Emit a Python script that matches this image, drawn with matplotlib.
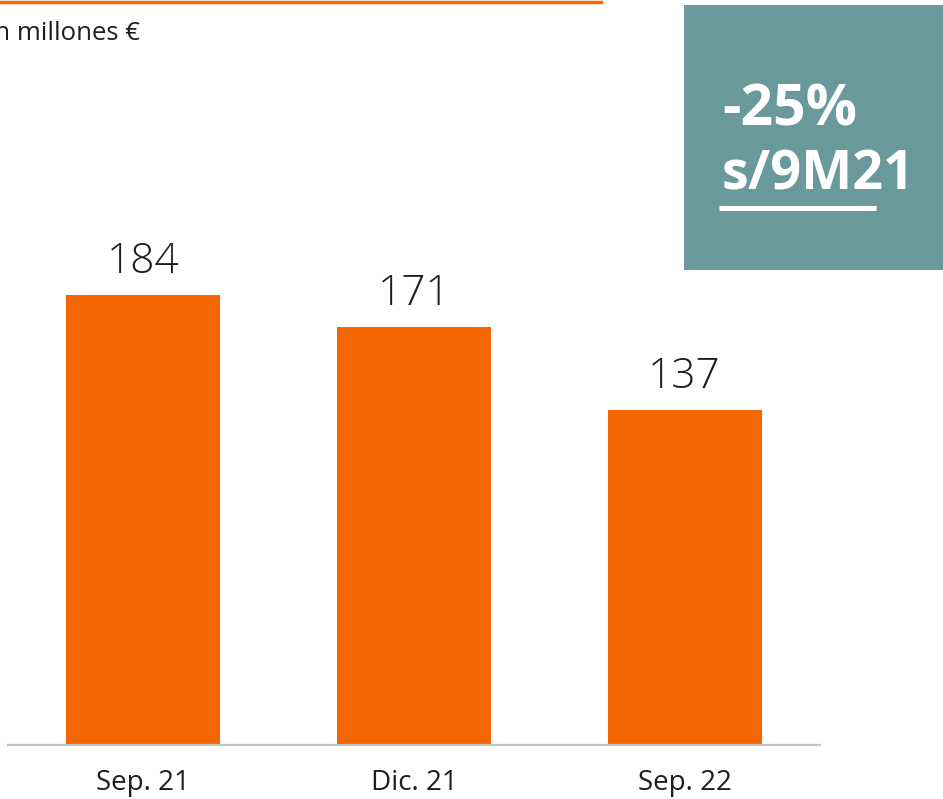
import matplotlib
matplotlib.use("Agg")
import matplotlib.pyplot as plt
from matplotlib.lines import Line2D
from matplotlib.patches import Rectangle

# ---------------------------------------------------------------------------
# data
# ---------------------------------------------------------------------------
periods = ["Sep. 21", "Dic. 21", "Sep. 22"]
values = [184, 171, 137]
unit_label = "En millones €"
change_pct = "-25%"
change_ref = "s/9M21"

ORANGE = "#F46700"
TEAL = "#69999B"
GREY = "#C4C4C4"
TEXT = "#1E1E1E"
FONT = ["Open Sans", "DejaVu Sans"]

W, H = 943, 799
fig = plt.figure(figsize=(W / 100, H / 100), dpi=100)
fig.patch.set_facecolor("white")

# axes placed in pixel terms: baseline at y=745, spans x=8..820
ax = fig.add_axes([8 / W, (H - 745) / H, 812 / W, 685 / H])
x = range(len(values))
bars = ax.bar(x, values, width=0.57, color=ORANGE, zorder=2)
ax.set_xlim(-0.5, 2.5)
ax.set_ylim(0, 280)

for b, v in zip(bars, values):
    ax.annotate(f"{v}", (b.get_x() + b.get_width() / 2, v),
                xytext=(0, 15.5), textcoords="offset points",
                ha="center", va="baseline", fontsize=30.5,
                family=FONT, fontweight="light", color=TEXT)

ax.set_xticks(list(x))
ax.set_xticklabels(periods, fontsize=20, family=FONT, color=TEXT)
ax.tick_params(axis="x", length=0, pad=17)
ax.set_yticks([])
for side in ["left", "right", "top"]:
    ax.spines[side].set_visible(False)
ax.spines["bottom"].set_color(GREY)
ax.spines["bottom"].set_linewidth(1.6)

# orange rule at the top and unit note (cut off at left edge, as in source)
fig.add_artist(Line2D([0, 601 / W], [1 - 1.5 / H, 1 - 1.5 / H],
                      color=ORANGE, linewidth=2.5, transform=fig.transFigure))
fig.text(140 / W, 1 - 33 / H, unit_label, ha="right", va="center",
         fontsize=18.5, family=FONT, color=TEXT)

# teal callout box
fig.add_artist(Rectangle((684 / W, 1 - 270 / H), (W - 684) / W, 265 / H,
                         facecolor=TEAL, edgecolor="none",
                         transform=fig.transFigure))
fig.text(722 / W, 1 - 126 / H, change_pct, ha="left", va="baseline",
         fontsize=41, fontweight="bold", family=FONT, color="white")
fig.text(722 / W, 1 - 190 / H, change_ref, ha="left", va="baseline",
         fontsize=39, fontweight="bold", family=FONT, color="white")
fig.add_artist(Line2D([719 / W, 876 / W], [1 - 207.5 / H, 1 - 207.5 / H],
                      color="white", linewidth=3.6, solid_capstyle="butt",
                      transform=fig.transFigure))

fig.savefig("out.png", dpi=100, facecolor="white")
